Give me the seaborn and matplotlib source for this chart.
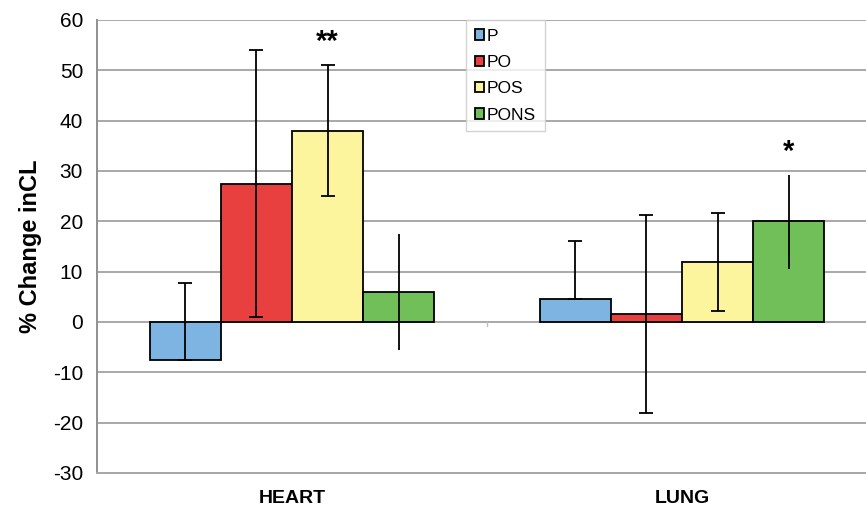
import pandas as pd
import matplotlib.pyplot as plt
import seaborn as sns

# Values
organs = ["HEART", "LUNG"]
groups = ["P", "PO", "POS", "PONS"]
heart_vals = [-7.5, 27.5, 38.0, 6.0]
lung_vals = [4.5, 1.5, 12.0, 20.0]
heart_err_low = [-7.5, 1.0, 25.0, -5.5]
heart_err_high = [7.8, 54.0, 51.0, 17.5]
lung_err_low = [4.5, -18.0, 2.2, 10.5]
lung_err_high = [16.0, 21.3, 21.6, 29.2]
stars = {("HEART", "POS"): "**", ("LUNG", "PONS"): "*"}

colors = ["#7eb4e2", "#e8403f", "#fdf49e", "#70bf58"]
has_caps = [True, True, True, False]

df = pd.DataFrame({
    "organ": [o for o in organs for _ in groups],
    "group": groups * 2,
    "value": heart_vals + lung_vals,
    "low": heart_err_low + lung_err_low,
    "high": heart_err_high + lung_err_high,
})

sns.set_style("white")
plt.rcParams["font.family"] = ["Liberation Sans", "DejaVu Sans"]
plt.rcParams["axes.unicode_minus"] = False
plt.rcParams["text.color"] = "black"
plt.rcParams["axes.labelcolor"] = "black"
plt.rcParams["xtick.color"] = "black"
plt.rcParams["ytick.color"] = "black"

fig = plt.figure(figsize=(8.66, 5.11), dpi=100)
ax = fig.add_axes([0.112, 0.0744, 0.888, 0.8865])

sns.barplot(data=df, x="organ", y="value", hue="group", hue_order=groups,
            palette=colors, saturation=1, width=0.73, gap=0,
            edgecolor="black", linewidth=1.3, errorbar=None, ax=ax, zorder=3)

# error bars and significance marks
for gi, (container, g) in enumerate(zip(ax.containers, groups)):
    for oi, (bar, o) in enumerate(zip(container, organs)):
        row = df[(df.organ == o) & (df.group == g)].iloc[0]
        xc = bar.get_x() + bar.get_width() / 2
        ax.errorbar([xc], [row.value],
                    yerr=[[row.value - row.low], [row.high - row.value]],
                    fmt="none", ecolor="black", elinewidth=1.3,
                    capsize=5 if has_caps[gi] else 0, capthick=1.3, zorder=4)
        if (o, g) in stars:
            ax.text(xc, row.high + 1.8, stars[(o, g)], ha="center", va="bottom",
                    fontsize=21, fontweight="bold")

ax.set_ylim(-30, 60)
ax.set_xlim(-0.5, 1.472)
ax.set_yticks(range(-30, 61, 10))
ax.yaxis.grid(True, color="#a8a8a8", linewidth=1.4, zorder=0)
ax.set_axisbelow(True)
for side in ["top", "right"]:
    ax.spines[side].set_visible(False)
ax.spines["left"].set_color("#909090")
ax.spines["left"].set_linewidth(1.4)
ax.spines["bottom"].set_color("#a8a8a8")
ax.spines["bottom"].set_linewidth(1.4)
ax.tick_params(axis="y", length=6, color="#909090", width=1.2, labelsize=15, pad=4)
ax.tick_params(axis="x", length=0, labelsize=14, pad=12)
for lbl in ax.get_xticklabels():
    lbl.set_fontweight("bold")
ax.axvline(0.5, ymin=(0 - 0.8 + 30) / 90, ymax=30 / 90, color="#c0c0c0", linewidth=1)
ax.set_xlabel("")
ax.set_ylabel("% Change inCL", fontsize=17, fontweight="bold", labelpad=8)

leg = ax.legend(loc="upper left", bbox_to_anchor=(0.48, 1.0), borderaxespad=0,
                fontsize=12.5, frameon=True, fancybox=False, edgecolor="#c8c8c8",
                handlelength=0.55, handleheight=0.55, handletextpad=0.15,
                labelspacing=0.65, borderpad=0.5)
leg.get_frame().set_linewidth(1)

fig.savefig("out.png", dpi=100)
